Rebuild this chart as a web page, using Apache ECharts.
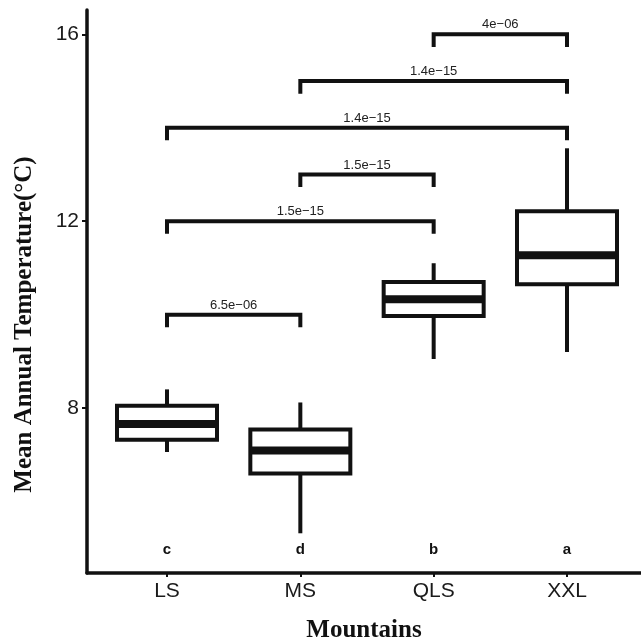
<!DOCTYPE html>
<html>
<head>
<meta charset="utf-8">
<script src="https://cdn.jsdelivr.net/npm/echarts@6/dist/echarts.min.js"></script>
<style>
html,body{margin:0;padding:0;background:#fff;}
#chart{width:641px;height:642px;}
</style>
</head>
<body>
<div id="chart"></div>
<script>
// ---- data ----
const categories = ['LS', 'MS', 'QLS', 'XXL'];
const whiskerLow  = [7.06, 5.32, 9.05, 9.20];
const q1          = [7.32, 6.60, 9.97, 10.65];
const median      = [7.66, 7.09, 10.33, 11.27];
const q3          = [8.05, 7.54, 10.70, 12.21];
const whiskerHigh = [8.40, 8.12, 11.10, 13.56];
const groupLetters = ['c', 'd', 'b', 'a'];

const bracketFrom = ['QLS', 'MS', 'LS', 'MS', 'LS', 'LS'];
const bracketTo   = ['XXL', 'XXL', 'XXL', 'QLS', 'QLS', 'MS'];
const bracketY    = [16, 15, 14, 13, 12, 10];
const pLabels     = ['4e\u221206', '1.4e\u221215', '1.4e\u221215', '1.5e\u221215', '1.5e\u221215', '6.5e\u221206'];

const yTicks = [8, 12, 16];

// ---- build ----
const INK = '#111111';
const SANS = '"Liberation Sans", Arial, Helvetica, sans-serif';
const SERIF = '"Liberation Serif", "Times New Roman", serif';
const BOX_HALF = 0.375;
const TIP = 0.27;
const LETTER_Y = 4.96;

const boxData = categories.map((c, i) => [i + 1, whiskerLow[i], q1[i], median[i], q3[i], whiskerHigh[i]]);
const bracketData = bracketFrom.map((f, i) => [categories.indexOf(f) + 1, categories.indexOf(bracketTo[i]) + 1, bracketY[i], i]);
const letterData = categories.map((c, i) => [i + 1, LETTER_Y, i]);

function renderBox(params, api) {
  const x = api.value(0);
  const lo = api.value(1), a = api.value(2), m = api.value(3), b = api.value(4), hi = api.value(5);
  const pLo = api.coord([x, lo]), pA = api.coord([x, a]), pB = api.coord([x, b]), pHi = api.coord([x, hi]);
  const tl = api.coord([x - BOX_HALF, b]);
  const br = api.coord([x + BOX_HALF, a]);
  const ml = api.coord([x - BOX_HALF, m]);
  const mr = api.coord([x + BOX_HALF, m]);
  return {
    type: 'group',
    children: [
      { type: 'line', shape: { x1: pHi[0], y1: pHi[1], x2: pB[0], y2: pB[1] }, style: { stroke: INK, lineWidth: 4 } },
      { type: 'line', shape: { x1: pA[0], y1: pA[1], x2: pLo[0], y2: pLo[1] }, style: { stroke: INK, lineWidth: 4 } },
      { type: 'rect', shape: { x: tl[0], y: tl[1], width: br[0] - tl[0], height: br[1] - tl[1] }, style: { fill: '#fff', stroke: INK, lineWidth: 4 } },
      { type: 'line', shape: { x1: ml[0], y1: ml[1], x2: mr[0], y2: mr[1] }, style: { stroke: INK, lineWidth: 8 } }
    ]
  };
}

function renderBracket(params, api) {
  const x1 = api.value(0), x2 = api.value(1), y = api.value(2), idx = api.value(3);
  const p1 = api.coord([x1, y - TIP]);
  const p2 = api.coord([x1, y]);
  const p3 = api.coord([x2, y]);
  const p4 = api.coord([x2, y - TIP]);
  return {
    type: 'group',
    children: [
      { type: 'polyline', shape: { points: [p1, p2, p3, p4] }, style: { stroke: INK, lineWidth: 4, fill: null, lineJoin: 'miter' } },
      { type: 'text', x: (p2[0] + p3[0]) / 2, y: p2[1] - 3, style: { text: pLabels[idx], align: 'center', verticalAlign: 'bottom', fontSize: 13, fontFamily: SANS, fill: '#222' } }
    ]
  };
}

function renderLetter(params, api) {
  const p = api.coord([api.value(0), api.value(1)]);
  return { type: 'text', x: p[0], y: p[1], style: { text: groupLetters[api.value(2)], align: 'center', verticalAlign: 'middle', fontSize: 15, fontWeight: 'bold', fontFamily: SANS, fill: INK } };
}

const chart = echarts.init(document.getElementById('chart'), null, { renderer: 'canvas' });
chart.setOption({
  animation: false,
  backgroundColor: '#fff',
  grid: { left: 87, right: 0, top: 10, bottom: 69, containLabel: false, outerBoundsMode: 'none' },
  xAxis: {
    type: 'value', min: 0.4, max: 4.555,
    name: 'Mountains', nameLocation: 'middle', nameGap: 45,
    nameTextStyle: { fontFamily: SERIF, fontWeight: 'bold', fontSize: 25, color: INK },
    axisLine: { show: true, onZero: false, lineStyle: { color: INK, width: 3.5 } },
    axisTick: { show: true, length: 4, lineStyle: { color: INK, width: 2 }, customValues: [1, 2, 3, 4] },
    axisLabel: { show: true, fontFamily: SANS, fontSize: 21, color: '#1a1a1a', margin: 8, customValues: [1, 2, 3, 4], formatter: v => categories[Math.round(v) - 1] },
    splitLine: { show: false }
  },
  yAxis: {
    type: 'value', min: 4.47, max: 16.52,
    name: 'Mean Annual Temperature(°C)', nameLocation: 'middle', nameGap: 50,
    nameTextStyle: { fontFamily: SERIF, fontWeight: 'bold', fontSize: 25, color: INK, padding: [0, 66, 0, 0] },
    axisLine: { show: true, onZero: false, lineStyle: { color: INK, width: 3.5 } },
    axisTick: { show: true, length: 5, lineStyle: { color: INK, width: 2 }, customValues: yTicks },
    axisLabel: { show: true, fontFamily: SANS, fontSize: 21, color: '#1a1a1a', margin: 8, customValues: yTicks },
    splitLine: { show: false }
  },
  series: [
    { type: 'custom', name: 'box', renderItem: renderBox, data: boxData, encode: { x: 0, y: [1, 2, 3, 4, 5] }, clip: false },
    { type: 'custom', name: 'brackets', renderItem: renderBracket, data: bracketData, encode: { x: [0, 1], y: 2 }, clip: false },
    { type: 'custom', name: 'letters', renderItem: renderLetter, data: letterData, encode: { x: 0, y: 1 }, clip: false }
  ]
});
</script>
</body>
</html>
